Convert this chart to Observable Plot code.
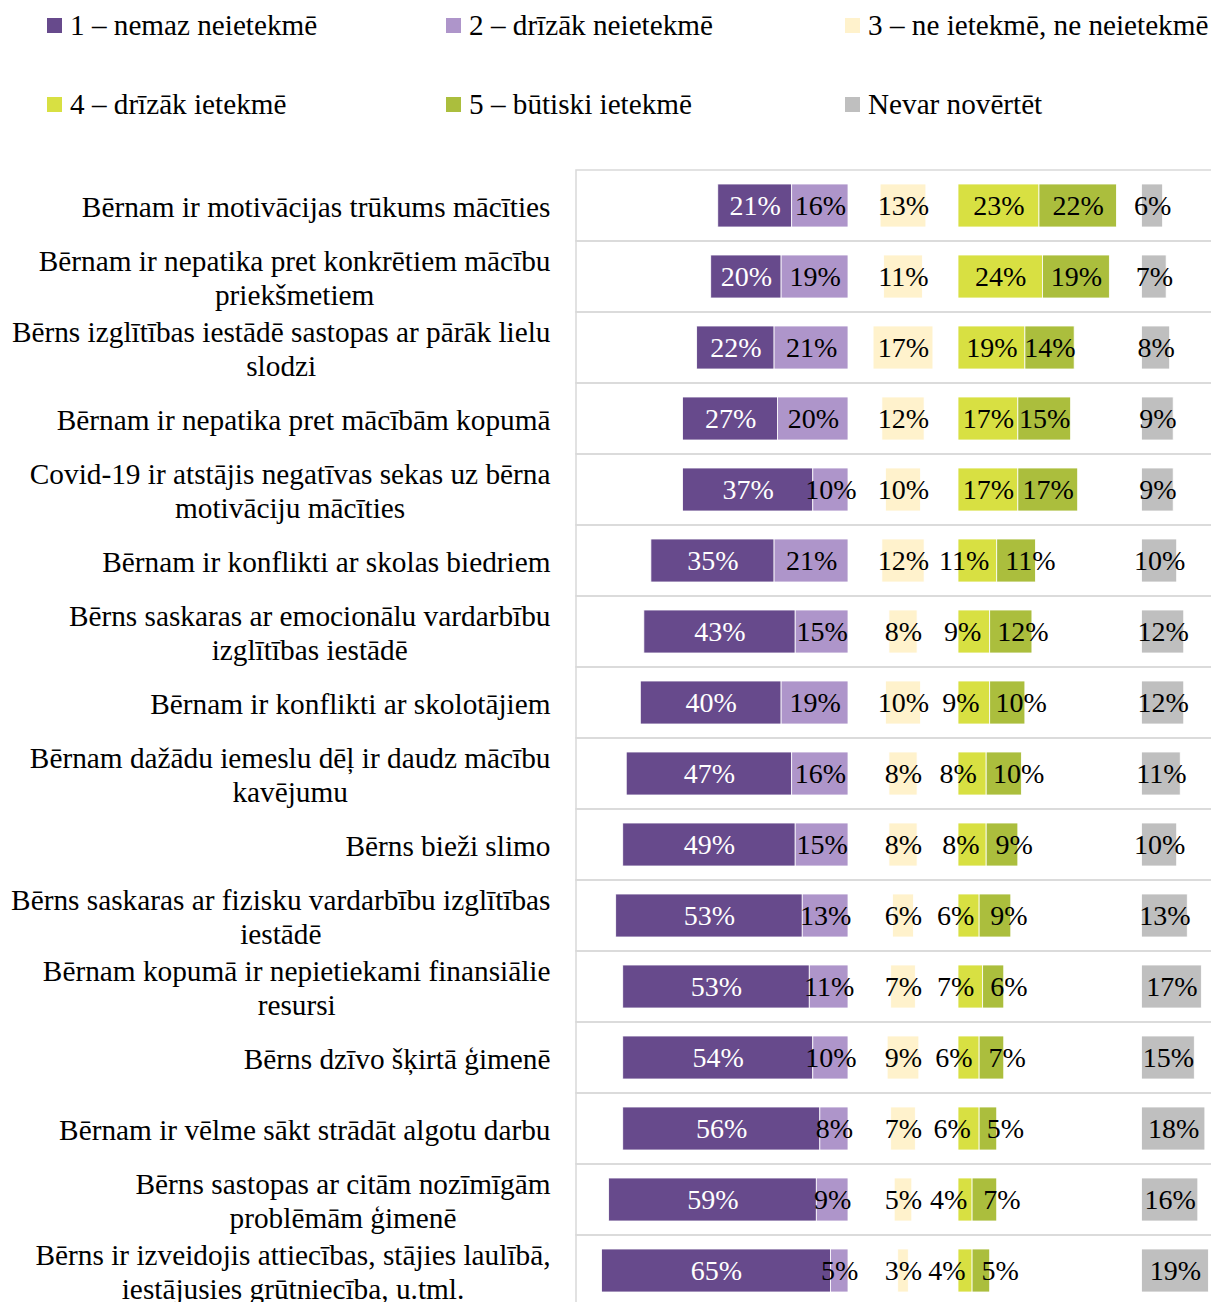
<!DOCTYPE html>
<html><head><meta charset="utf-8">
<script src="https://cdn.jsdelivr.net/npm/d3@7"></script>
<script src="https://cdn.jsdelivr.net/npm/@observablehq/plot@0.6"></script>
<style>
html,body{margin:0;padding:0;background:#fff;overflow:hidden;}
body{width:1211px;font-family:"Liberation Serif","Times New Roman",serif;color:#000;}
#legend{position:relative;height:150px;width:1211px;}
.li{position:absolute;display:flex;align-items:center;font-size:29.2px;line-height:29px;height:29px;white-space:nowrap;}
.sw{width:15px;height:15px;margin-right:8px;flex:none;}
</style></head><body>
<div id="legend"></div>
<div id="chart"></div>
<script>
// ---- data ----
const categories = [
  "Bērnam ir motivācijas trūkums mācīties",
  "Bērnam ir nepatika pret konkrētiem mācību\npriekšmetiem",
  "Bērns izglītības iestādē sastopas ar pārāk lielu\nslodzi",
  "Bērnam ir nepatika pret mācībām kopumā",
  "Covid-19 ir atstājis negatīvas sekas uz bērna\nmotivāciju mācīties",
  "Bērnam ir konflikti ar skolas biedriem",
  "Bērns saskaras ar emocionālu vardarbību\nizglītības iestādē",
  "Bērnam ir konflikti ar skolotājiem",
  "Bērnam dažādu iemeslu dēļ ir daudz mācību\nkavējumu",
  "Bērns bieži slimo",
  "Bērns saskaras ar fizisku vardarbību izglītības\niestādē",
  "Bērnam kopumā ir nepietiekami finansiālie\nresursi",
  "Bērns dzīvo šķirtā ģimenē",
  "Bērnam ir vēlme sākt strādāt algotu darbu",
  "Bērns sastopas ar citām nozīmīgām\nproblēmām ģimenē",
  "Bērns ir izveidojis attiecības, stājies laulībā,\niestājusies grūtniecība, u.tml."
];
const seriesNames = ["1 – nemaz neietekmē", "2 – drīzāk neietekmē", "3 – ne ietekmē, ne neietekmē",
                     "4 – drīzāk ietekmē", "5 – būtiski ietekmē", "Nevar novērtēt"];
const seriesColors = ["#674A8C", "#AE95CA", "#FFF2CC", "#D8E042", "#ABBE3D", "#BFBFBF"];
const s1 = [21, 20, 22, 27, 37, 35, 43, 40, 47, 49, 53, 53, 54, 56, 59, 65];
const s2 = [16, 19, 21, 20, 10, 21, 15, 19, 16, 15, 13, 11, 10, 8, 9, 5];
const s3 = [13, 11, 17, 12, 10, 12, 8, 10, 8, 8, 6, 7, 9, 7, 5, 3];
const s4 = [23, 24, 19, 17, 17, 11, 9, 9, 8, 8, 6, 7, 6, 6, 4, 4];
const s5 = [22, 19, 14, 15, 17, 11, 12, 10, 10, 9, 9, 6, 7, 5, 7, 5];
const s6 = [6, 7, 8, 9, 9, 10, 12, 12, 11, 10, 13, 17, 15, 18, 16, 19];

// ---- layout (pixel constants converted to percent units) ----
const W = 1211, ML = 576, ROW = 71, MT = 20;
const PX = 3.52;                 // px per percentage point
const D = (W - ML) / PX;
const NEG_END = 272 / PX, NEU_C = 327 / PX, POS_START = 382 / PX, NA_START = 565.5 / PX;

// ---- legend ----
const legend = document.getElementById("legend");
const lx = [47, 446, 845], ly = [11, 90];
seriesNames.forEach((n, i) => {
  const d = document.createElement("div");
  d.className = "li";
  d.style.left = lx[i % 3] + "px";
  d.style.top = ly[Math.floor(i / 3)] + "px";
  d.innerHTML = `<span class="sw" style="background:${seriesColors[i]}"></span><span>${n}</span>`;
  legend.appendChild(d);
});

// ---- segments ----
const rows = [];
categories.forEach((c, i) => {
  const a = s1[i], b = s2[i], n = s3[i], p = s4[i], q = s5[i], z = s6[i];
  rows.push({cat: c, s: seriesNames[0], x1: NEG_END - a - b, x2: NEG_END - b, v: a});
  rows.push({cat: c, s: seriesNames[1], x1: NEG_END - b, x2: NEG_END, v: b});
  rows.push({cat: c, s: seriesNames[2], x1: NEU_C - n / 2, x2: NEU_C + n / 2, v: n});
  rows.push({cat: c, s: seriesNames[3], x1: POS_START, x2: POS_START + p, v: p});
  rows.push({cat: c, s: seriesNames[4], x1: POS_START + p, x2: POS_START + p + q, v: q});
  rows.push({cat: c, s: seriesNames[5], x1: NA_START, x2: NA_START + z, v: z});
});

// ---- labels: centered; colliding neighbours are pushed apart ----
const ctx = document.createElement("canvas").getContext("2d");
ctx.font = "28px 'Liberation Serif'";
const GAP = 16 / PX;
const labels = [];
categories.forEach(c => {
  const segs = rows.filter(r => r.cat === c).map(r => ({
    ...r, t: r.v + "%", cx: (r.x1 + r.x2) / 2, w: ctx.measureText(r.v + "%").width / PX
  }));
  for (let k = 0; k < segs.length - 1; k++) {
    const a = segs[k], b = segs[k + 1];
    const ov = (a.cx + a.w / 2) - (b.cx - b.w / 2);
    if (ov > 0) { const m = (ov + GAP) / 2; a.cx -= m; b.cx += m; }
  }
  labels.push(...segs);
});

const plot = Plot.plot({
  width: W,
  height: MT + ROW * categories.length,
  marginLeft: ML, marginRight: 0, marginTop: MT, marginBottom: 0,
  style: {fontFamily: "'Liberation Serif', 'Times New Roman', serif", fontSize: "29px", background: "#fff", color: "#000", overflow: "visible"},
  x: {domain: [0, D], axis: null},
  y: {domain: categories, padding: 0, axis: null},
  color: {domain: seriesNames, range: seriesColors},
  marks: [
    Plot.barX(categories, {y: d => d, x1: 0, x2: D + 3, fill: "none", stroke: "#D9D9D9", strokeWidth: 1.5}),
    Plot.barX(rows, {y: "cat", x1: "x1", x2: "x2", fill: "s", stroke: "white", strokeWidth: 0.8, insetTop: 14, insetBottom: 14}),
    Plot.text(labels, {filter: d => d.s === seriesNames[0], x: "cx", y: "cat", text: "t", fill: "white", fontSize: 28}),
    Plot.text(labels, {filter: d => d.s !== seriesNames[0], x: "cx", y: "cat", text: "t", fill: "black", fontSize: 28}),
    Plot.axisY({label: null, tickSize: 0, tickPadding: 26, fontSize: 29.3, lineHeight: 34 / 29.3, tickFormat: d => d})
  ]
});
document.getElementById("chart").appendChild(plot);

// center the lines of multi-line category labels within their right-aligned block
d3.select(plot).selectAll('g[aria-label="y-axis tick label"] text').each(function () {
  const spans = this.querySelectorAll("tspan");
  if (spans.length < 2) return;
  let wmax = 0;
  spans.forEach(s => { wmax = Math.max(wmax, s.getComputedTextLength()); });
  this.setAttribute("text-anchor", "middle");
  spans.forEach(s => s.setAttribute("x", -wmax / 2));
});
</script>
</body></html>
